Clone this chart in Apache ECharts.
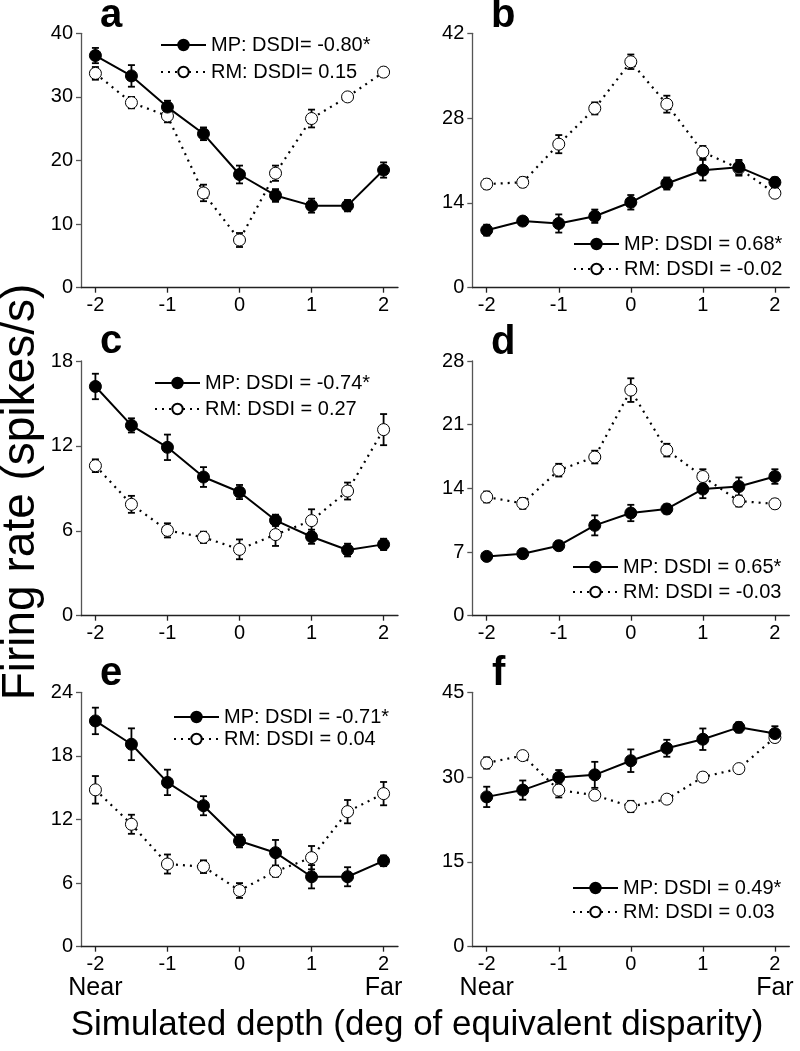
<!DOCTYPE html>
<html>
<head>
<meta charset="utf-8">
<script src="https://cdn.jsdelivr.net/npm/echarts@6/dist/echarts.min.js"></script>
<style>
html,body{margin:0;padding:0;background:#fff;}
#chart{width:800px;height:1051px;}
</style>
</head>
<body>
<div id="chart"></div>
<script>
// ---- data ----
const depth = [-2, -1.5, -1, -0.5, 0, 0.5, 1, 1.5, 2];
const xTicks = [-2, -1, 0, 1, 2];

const aMP = [36.5, 33.3, 28.4, 24.2, 17.8, 14.5, 12.9, 12.9, 18.5];
const aMPerr = [1.2, 1.7, 1.0, 1.0, 1.4, 1.0, 1.1, 0.9, 1.2];
const aRM = [33.7, 29.1, 27.0, 14.9, 7.5, 18.0, 26.6, 30.0, 33.9];
const aRMerr = [1.0, 0.9, 1.0, 1.3, 1.1, 1.2, 1.4, 0.5, 0.7];

const bMP = [9.5, 11.0, 10.6, 11.8, 14.1, 17.2, 19.4, 19.9, 17.4];
const bMPerr = [0.9, 0.5, 1.5, 1.1, 1.2, 1.0, 1.7, 1.2, 0.8];
const bRM = [17.1, 17.4, 23.7, 29.6, 37.3, 30.3, 22.4, 19.7, 15.6];
const bRMerr = [0.8, 0.8, 1.5, 1.0, 1.2, 1.4, 1.0, 1.2, 0.7];

const cMP = [16.2, 13.45, 11.9, 9.8, 8.74, 6.74, 5.58, 4.64, 5.04];
const cMPerr = [0.9, 0.5, 0.9, 0.7, 0.5, 0.4, 0.5, 0.45, 0.4];
const cRM = [10.6, 7.87, 6.03, 5.54, 4.69, 5.73, 6.72, 8.81, 13.15];
const cRMerr = [0.45, 0.6, 0.5, 0.4, 0.7, 0.8, 0.8, 0.6, 1.1];

const dMP = [6.52, 6.82, 7.7, 9.93, 11.29, 11.73, 13.92, 14.2, 15.3];
const dMPerr = [0.4, 0.5, 0.5, 1.1, 0.9, 0.5, 1.0, 1.0, 0.8];
const dRM = [13.05, 12.35, 16.0, 17.44, 24.8, 18.2, 15.3, 12.6, 12.3];
const dRMerr = [0.6, 0.6, 0.7, 0.7, 1.3, 0.7, 0.8, 0.6, 0.5];

const eMP = [21.3, 19.1, 15.5, 13.3, 9.97, 8.87, 6.6, 6.6, 8.1];
const eMPerr = [1.25, 1.5, 1.2, 0.9, 0.6, 1.2, 1.1, 0.9, 0.5];
const eRM = [14.8, 11.55, 7.8, 7.55, 5.3, 7.1, 8.4, 12.74, 14.44];
const eRMerr = [1.3, 0.9, 0.9, 0.6, 0.7, 0.5, 1.1, 1.1, 1.1];

const fMP = [26.5, 27.7, 29.95, 30.4, 32.9, 35.1, 36.7, 38.8, 37.7];
const fMPerr = [1.8, 1.7, 1.3, 2.3, 2.0, 1.5, 1.9, 0.9, 1.3];
const fRM = [32.5, 33.8, 27.7, 26.8, 24.8, 26.1, 30.0, 31.5, 37.0];
const fRMerr = [1.0, 0.6, 1.3, 0.8, 1.0, 0.6, 0.8, 0.5, 0.8];

const letters = ['a', 'b', 'c', 'd', 'e', 'f'];
const yMax = [40, 42, 18, 28, 24, 45];
const yInterval = [10, 14, 6, 7, 6, 15];
const mpNames = ['MP: DSDI= -0.80*', 'MP: DSDI = 0.68*', 'MP: DSDI = -0.74*', 'MP: DSDI = 0.65*', 'MP: DSDI = -0.71*', 'MP: DSDI = 0.49*'];
const rmNames = ['RM: DSDI= 0.15', 'RM: DSDI = -0.02', 'RM: DSDI = 0.27', 'RM: DSDI = -0.03', 'RM: DSDI = 0.04', 'RM: DSDI = 0.03'];
const mpVals = [aMP, bMP, cMP, dMP, eMP, fMP];
const mpErrs = [aMPerr, bMPerr, cMPerr, dMPerr, eMPerr, fMPerr];
const rmVals = [aRM, bRM, cRM, dRM, eRM, fRM];
const rmErrs = [aRMerr, bRMerr, cRMerr, dRMerr, eRMerr, fRMerr];

const xTitle = 'Simulated depth (deg of equivalent disparity)';
const yTitle = 'Firing rate (spikes/s)';

// ---- layout ----
const FONT = 'Liberation Sans, Arial, Helvetica, sans-serif';
const colLeft = [81, 472.3];
const rowTop = [33.3, 361, 692.3];
const rowH = [254.4, 254.7, 254.4];
const gridW = 317;
const legendPos = [
  {left: 160, top: 35, gap: 7},
  {left: 573, top: 234, gap: 5},
  {left: 154, top: 373, gap: 6},
  {left: 572, top: 557, gap: 5},
  {left: 173, top: 707, gap: 2},
  {left: 572, top: 878, gap: 4}
];
const letterPos = [[100, 36], [491, 36], [100, 362], [491, 363], [100, 694], [492, 694]];

const grids = [], xAxes = [], yAxes = [], series = [], legends = [], graphics = [];

function errRender(params, api) {
  const x = api.value(0), lo = api.value(1), hi = api.value(2);
  const p1 = api.coord([x, hi]), p2 = api.coord([x, lo]);
  const w = 3.5;
  const st = {stroke: '#000', lineWidth: 1.8};
  return {type: 'group', children: [
    {type: 'line', shape: {x1: p1[0], y1: p1[1], x2: p2[0], y2: p2[1]}, style: st},
    {type: 'line', shape: {x1: p1[0] - w, y1: p1[1], x2: p1[0] + w, y2: p1[1]}, style: st},
    {type: 'line', shape: {x1: p2[0] - w, y1: p2[1], x2: p2[0] + w, y2: p2[1]}, style: st}
  ]};
}

for (let i = 0; i < 6; i++) {
  const col = i % 2, row = Math.floor(i / 2);
  const bottomRow = row === 2;
  grids.push({left: colLeft[col], top: rowTop[row], width: gridW, height: rowH[row], containLabel: false});
  xAxes.push({
    type: 'value', gridIndex: i, min: -2.2, max: 2.2,
    axisLine: {show: true, onZero: false, lineStyle: {color: '#222', width: 1.3}},
    axisTick: {show: true, customValues: xTicks, length: 5, lineStyle: {color: '#222', width: 1.3}},
    axisLabel: {
      customValues: xTicks, color: '#000', fontFamily: FONT, fontSize: 20, margin: 7, lineHeight: 21,
      formatter: function (v) {
        const s = String(v);
        if (bottomRow && v === -2) return s + '\n{n|Near}';
        if (bottomRow && v === 2) return s + '\n{n|Far}';
        return s;
      },
      rich: {n: {fontFamily: FONT, fontSize: 25, lineHeight: 27, color: '#000'}}
    },
    splitLine: {show: false}
  });
  yAxes.push({
    type: 'value', gridIndex: i, min: 0, max: yMax[i], interval: yInterval[i],
    axisLine: {show: true, onZero: false, lineStyle: {color: '#555', width: 1.3}},
    axisTick: {show: true, length: 5, lineStyle: {color: '#555', width: 1.3}},
    axisLabel: {color: '#000', fontFamily: FONT, fontSize: 20, margin: 8},
    splitLine: {show: false}
  });
  const mpErrData = depth.map((d, k) => [d, mpVals[i][k] - mpErrs[i][k], mpVals[i][k] + mpErrs[i][k]]);
  const rmErrData = depth.map((d, k) => [d, rmVals[i][k] - rmErrs[i][k], rmVals[i][k] + rmErrs[i][k]]);
  series.push({
    type: 'custom', name: 'errRM' + i, xAxisIndex: i, yAxisIndex: i, renderItem: errRender,
    data: rmErrData, encode: {x: 0, y: [1, 2]}, z: 1, silent: true
  });
  series.push({
    type: 'custom', name: 'errMP' + i, xAxisIndex: i, yAxisIndex: i, renderItem: errRender,
    data: mpErrData, encode: {x: 0, y: [1, 2]}, z: 1, silent: true
  });
  series.push({
    type: 'line', name: rmNames[i], xAxisIndex: i, yAxisIndex: i,
    data: depth.map((d, k) => [d, rmVals[i][k]]),
    symbol: 'circle', symbolSize: 12, z: 3,
    lineStyle: {color: '#000', width: 2.2, type: [2, 5]},
    itemStyle: {color: '#fff', borderColor: '#000', borderWidth: 1},
    animation: false
  });
  series.push({
    type: 'line', name: mpNames[i], xAxisIndex: i, yAxisIndex: i,
    data: depth.map((d, k) => [d, mpVals[i][k]]),
    symbol: 'circle', symbolSize: 12, z: 4,
    lineStyle: {color: '#000', width: 2, type: 'solid'},
    itemStyle: {color: '#000', borderColor: '#000', borderWidth: 1},
    animation: false
  });
  legends.push({
    data: [mpNames[i], rmNames[i]], orient: 'vertical',
    left: legendPos[i].left, top: legendPos[i].top, itemGap: legendPos[i].gap,
    itemWidth: 45, itemHeight: 13, padding: 0, selectedMode: false,
    textStyle: {fontFamily: FONT, fontSize: 20, color: '#000'}
  });
  graphics.push({
    type: 'text', x: letterPos[i][0], y: letterPos[i][1],
    style: {text: letters[i], font: 'bold 40px ' + FONT, fill: '#000', textAlign: 'left', textVerticalAlign: 'bottom'}
  });
}

graphics.push({
  type: 'text', x: 21, y: 492, rotation: Math.PI / 2,
  style: {text: yTitle, font: '46px ' + FONT, fill: '#000', textAlign: 'center', textVerticalAlign: 'middle'}
});
graphics.push({
  type: 'text', x: 417, y: 1025,
  style: {text: xTitle, font: '35px ' + FONT, fill: '#000', textAlign: 'center', textVerticalAlign: 'middle'}
});

const chart = echarts.init(document.getElementById('chart'), null, {renderer: 'canvas'});
chart.setOption({
  backgroundColor: '#fff',
  animation: false,
  grid: grids, xAxis: xAxes, yAxis: yAxes, series: series, legend: legends,
  graphic: graphics
});
</script>
</body>
</html>
